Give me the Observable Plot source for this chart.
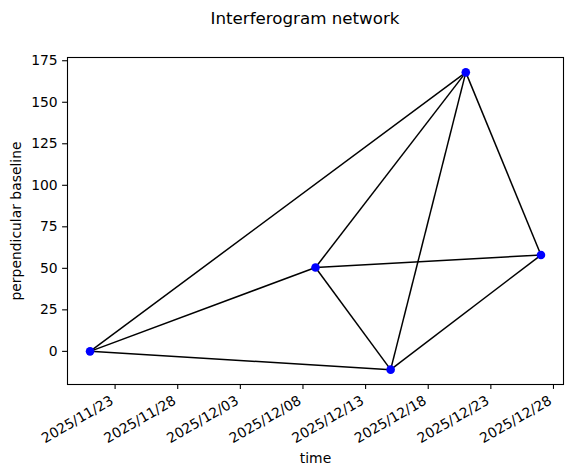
<!DOCTYPE html>
<html>
<head>
<meta charset="utf-8">
<script src="https://cdn.jsdelivr.net/npm/d3@7"></script>
<script src="https://cdn.jsdelivr.net/npm/@observablehq/plot@0.6"></script>
<style>
  body { margin: 0; background: #fff; font-family: "DejaVu Sans", sans-serif; }
  #title { width: 571px; height: 40px; box-sizing: border-box; padding-left: 39px; padding-top: 8px;
           text-align: center; font-size: 16.7px; line-height: 20px; color: #000; }
</style>
</head>
<body>
<div id="title">Interferogram network</div>
<div id="chart"></div>
<script>
const dates = ["2025-11-21", "2025-12-09", "2025-12-15", "2025-12-21", "2025-12-27"];
const baselines = [0, 50.5, -11, 168, 58];
const edgeFrom = [0, 0, 0, 1, 1, 1, 2, 2, 3];
const edgeTo   = [3, 1, 2, 3, 4, 2, 3, 4, 4];
const xTickLabels = ["2025-11-23", "2025-11-28", "2025-12-03", "2025-12-08", "2025-12-13", "2025-12-18", "2025-12-23", "2025-12-28"];
const yTicks = [0, 25, 50, 75, 100, 125, 150, 175];

const parse = d3.utcParse("%Y-%m-%d");
const points = dates.map((d, i) => ({date: parse(d), b: baselines[i]}));
const edges = edgeFrom.map((f, i) => ({
  x1: points[f].date, y1: points[f].b, x2: points[edgeTo[i]].date, y2: points[edgeTo[i]].b
}));
const xTicks = xTickLabels.map(parse);

const t0 = d3.min(points, d => d.date), t1 = d3.max(points, d => d.date);
const span = t1 - t0;
const bMin = d3.min(baselines), bMax = d3.max(baselines), bSpan = bMax - bMin;

const chart = Plot.plot({
  width: 571,
  height: 435,
  marginLeft: 67,
  marginRight: 8,
  marginTop: 17,
  marginBottom: 91,
  style: {fontFamily: "DejaVu Sans, sans-serif", fontSize: "13.9px", color: "#000", background: "#fff"},
  x: {type: "utc", domain: [new Date(+t0 - 0.05 * span), new Date(+t1 + 0.05 * span)]},
  y: {domain: [bMin - 0.05 * bSpan, bMax + 0.05 * bSpan]},
  marks: [
    Plot.frame({stroke: "#000", strokeWidth: 1.1}),
    Plot.axisY({ticks: yTicks, tickSize: 4.9, tickPadding: 4.9, strokeWidth: 1.1,
      label: "perpendicular baseline", labelAnchor: "center", labelArrow: "none", labelOffset: 56}),
    Plot.axisX({ticks: xTicks, tickFormat: () => "", tickSize: 4.9, strokeWidth: 1.1, label: null}),
    Plot.axisX({ticks: xTicks, tickFormat: d3.utcFormat("%Y/%m/%d"), tickSize: 0, tickPadding: 15,
      tickRotate: -30, dx: -3,
      label: "time", labelAnchor: "center", labelArrow: "none", labelOffset: 78}),
    Plot.link(edges, {x1: "x1", y1: "y1", x2: "x2", y2: "y2", stroke: "#000", strokeWidth: 1.5}),
    Plot.dot(points, {x: "date", y: "b", r: 4.3, fill: "#0000ff", stroke: "none"})
  ]
});
document.getElementById("chart").appendChild(chart);
</script>
</body>
</html>
